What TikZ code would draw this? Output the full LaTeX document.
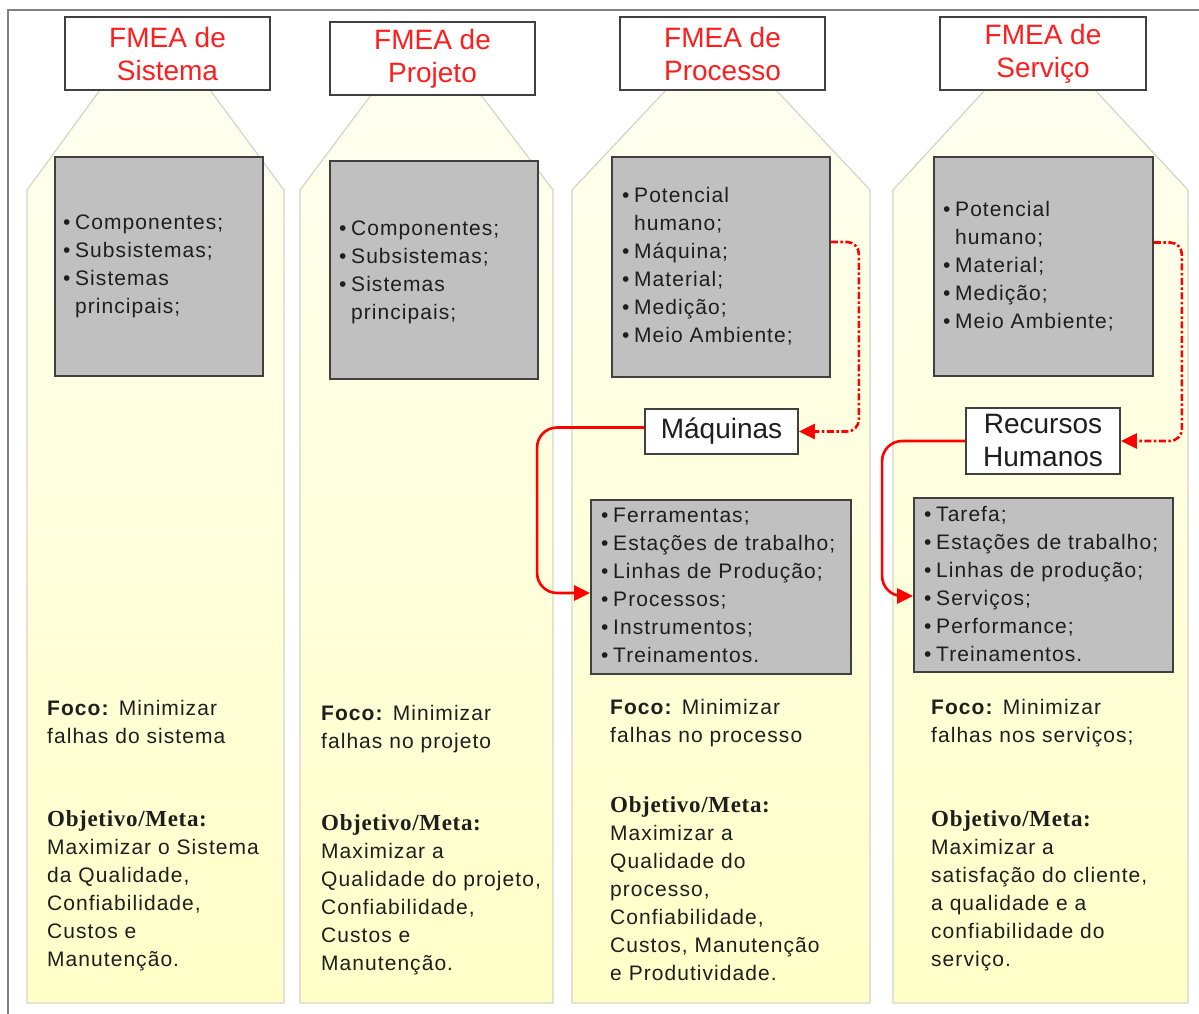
\documentclass[tikz,border=0pt]{standalone}
\usepackage{fontspec}
\setmainfont{Liberation Sans}
\newfontfamily\bodyfont{Liberation Sans}[LetterSpace=5]
\newfontfamily\metafont{Liberation Serif}[LetterSpace=3]
\usetikzlibrary{arrows.meta}

\definecolor{hdrred}{RGB}{255,30,30}
\definecolor{boxgray}{RGB}{192,192,192}
\definecolor{boxedge}{RGB}{64,64,64}
\definecolor{colfill}{RGB}{255,255,200}
\definecolor{coltop}{RGB}{255,255,240}
\definecolor{coledge}{RGB}{212,212,200}
\definecolor{ink}{RGB}{30,30,30}
\definecolor{framegray}{RGB}{128,128,128}
\definecolor{linkred}{RGB}{255,0,0}

\newcommand\bitem{\makebox[12pt][l]{\textbullet}}
\newcommand\bcont{\hspace*{12pt}}
\newcommand\metahead{{\metafont\bfseries\fontsize{23}{28}\selectfont Objetivo/Meta:}}

\tikzset{
  colshape/.style={draw=coledge, line width=1.2pt, top color=coltop, bottom color=colfill},
  header/.style={draw=boxedge, line width=1.8pt, fill=white, minimum width=205pt,
    minimum height=73pt, inner sep=0pt, align=center, text=hdrred,
    font=\fontsize{28}{33}\selectfont},
  graybox/.style={draw=boxedge, line width=1.8pt, fill=boxgray, inner sep=0pt},
  labelbox/.style={draw=boxedge, line width=1.8pt, fill=white, inner sep=0pt,
    align=center, text=ink, font=\fontsize{28}{33}\selectfont},
  body/.style={font=\bodyfont\fontsize{21}{28}\selectfont, text=ink, align=left,
    inner sep=0pt, anchor=north west},
  dashlink/.style={draw=linkred, line width=2.6pt, rounded corners=12pt,
    dash pattern=on 7pt off 2.5pt on 2.5pt off 2.5pt,
    -{Triangle[length=16pt,width=15pt]}},
  solidlink/.style={draw=linkred, line width=2.6pt, rounded corners=20pt,
    -{Triangle[length=16pt,width=15pt]}},
}

\begin{document}
\begin{tikzpicture}[x=1pt,y=-1pt]
\useasboundingbox (0,0) rectangle (1199,1014);
\fill[white] (0,0) rectangle (1199,1014);

% outer frame (top and left edges)
\draw[framegray, line width=2pt] (8,1014) -- (8,10) -- (1199,10);

% the four column bodies
\foreach \l/\r/\c/\t in {27/284/155/90, 300/553/426/95, 572/870/721/90, 893/1188/1040/90}
  \path[colshape] (\c-55,\t) -- (\c+55,\t) -- (\r,190) -- (\r,1003) -- (\l,1003) -- (\l,190) -- cycle;

% headers
\node[header] (hSis) at (167.5,53.5) {FMEA de\\Sistema};
\node[header] (hPrj) at (432.5,58.5) {FMEA de\\Projeto};
\node[header] (hPrc) at (722.5,53.5) {FMEA de\\Processo};
\node[header, minimum width=206pt] (hSrv) at (1043,53.5) {FMEA de\\Servi\c{c}o};

% grey boxes
\node[graybox, minimum width=208pt, minimum height=219pt] (sisA) at (159,266.5) {};
\node[graybox, minimum width=208pt, minimum height=218pt] (prjA) at (434,270) {};
\node[graybox, minimum width=218pt, minimum height=220pt] (prcA) at (721,267) {};
\node[graybox, minimum width=260pt, minimum height=174pt] (prcB) at (721,587) {};
\node[graybox, minimum width=219pt, minimum height=219pt] (srvA) at (1043.5,266.5) {};
\node[graybox, minimum width=259pt, minimum height=174pt] (srvB) at (1043.5,585) {};

% grey box contents
\node[body] (tSisA) at (63,215) {\bitem Componentes;\\\bitem Subsistemas;\\\bitem Sistemas\\\bcont principais;};
\node[body] (tPrjA) at (339,221) {\bitem Componentes;\\\bitem Subsistemas;\\\bitem Sistemas\\\bcont principais;};
\node[body] (tPrcA) at (622,187) {\bitem Potencial\\\bcont humano;\\\bitem Máquina;\\\bitem Material;\\\bitem Medição;\\\bitem Meio Ambiente;};
\node[body] (tPrcB) at (601,508) {\bitem Ferramentas;\\\bitem Estações de trabalho;\\\bitem Linhas de Produção;\\\bitem Processos;\\\bitem Instrumentos;\\\bitem Treinamentos.};
\node[body] (tSrvA) at (943,201) {\bitem Potencial\\\bcont humano;\\\bitem Material;\\\bitem Medição;\\\bitem Meio Ambiente;};
\node[body] (tSrvB) at (924,506) {\bitem Tarefa;\\\bitem Estações de trabalho;\\\bitem Linhas de produção;\\\bitem Serviços;\\\bitem Performance;\\\bitem Treinamentos.};

% intermediate labels
\node[labelbox, minimum width=153pt, minimum height=45pt] (maq) at (721.5,431.5) {Máquinas};
\node[labelbox, minimum width=154pt, minimum height=66pt] (rh) at (1043,441) {Recursos\\Humanos};

% connectors
\draw[dashlink] ([yshift=25pt]prcA.east) -- ++(28,0) |- (maq.east);
\draw[solidlink] ([yshift=4pt]maq.west) -- ++(-107,0) |- ([yshift=-6pt]prcB.west);
\draw[dashlink] ([yshift=24pt]srvA.east) -- ++(28,0) |- (rh.east);
\draw[solidlink] (rh.west) -- ++(-83,0) |- ([yshift=-11pt]srvB.west);

% focus and goal texts
\node[body] (fSis) at (47,700) {\textbf{Foco:} Minimizar\\falhas do sistema};
\node[body] (mSis) at (47,810) {\metahead\\Maximizar o Sistema\\da Qualidade,\\Confiabilidade,\\Custos e\\Manutenção.};
\node[body] (fPrj) at (321,705) {\textbf{Foco:} Minimizar\\falhas no projeto};
\node[body] (mPrj) at (321,814) {\metahead\\Maximizar a\\Qualidade do projeto,\\Confiabilidade,\\Custos e\\Manutenção.};
\node[body] (fPrc) at (610,699) {\textbf{Foco:} Minimizar\\falhas no processo};
\node[body] (mPrc) at (610,796) {\metahead\\Maximizar a\\Qualidade do\\processo,\\Confiabilidade,\\Custos, Manutenção\\e Produtividade.};
\node[body] (fSrv) at (931,699) {\textbf{Foco:} Minimizar\\falhas nos serviços;};
\node[body] (mSrv) at (931,810) {\metahead\\Maximizar a\\satisfação do cliente,\\a qualidade e a\\confiabilidade do\\serviço.};
\end{tikzpicture}
\end{document}
